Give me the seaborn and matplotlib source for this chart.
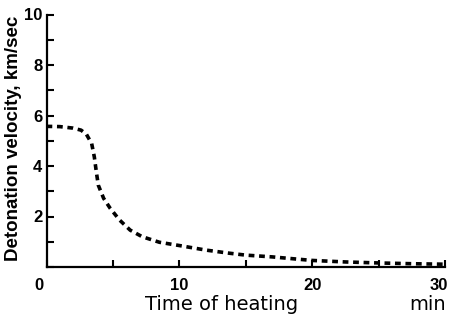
import matplotlib
matplotlib.use("Agg")
import matplotlib.pyplot as plt
import matplotlib.transforms as mtransforms
from matplotlib.ticker import MultipleLocator, FixedLocator
import seaborn as sns
import pandas as pd

# Data
time_min = [0, 1, 2, 2.6, 3.0, 3.4, 3.6, 3.75, 3.9, 4.3, 4.8, 5.5, 6.3, 7.2,
            8.5, 10, 12, 13.7, 15, 17, 18.7, 20, 22.5, 25, 27.5, 30]
velocity = [5.57, 5.56, 5.5, 5.42, 5.26, 4.89, 4.36, 3.77, 3.24, 2.72, 2.32,
            1.86, 1.46, 1.2, 0.98, 0.85, 0.67, 0.55, 0.47, 0.40, 0.32, 0.26,
            0.2, 0.16, 0.13, 0.11]
x_tick_labels = ["0", "10", "20", "30"]
y_tick_labels = ["", "2", "4", "6", "8", "10"]

sns.set_style("ticks")
plt.rcParams["font.family"] = ["Liberation Sans", "DejaVu Sans"]
plt.rcParams["xtick.direction"] = "in"
plt.rcParams["ytick.direction"] = "in"
plt.rcParams["text.color"] = "black"
plt.rcParams["axes.labelcolor"] = "black"
plt.rcParams["xtick.color"] = "black"
plt.rcParams["ytick.color"] = "black"

df = pd.DataFrame({"time": time_min, "velocity": velocity})

fig = plt.figure(figsize=(4.51, 3.14), dpi=100)
ax = fig.add_axes([46.5 / 451, (314 - 267) / 314, (445 - 46.5) / 451, (267 - 14.5) / 314])

sns.lineplot(data=df, x="time", y="velocity", ax=ax, color="black",
             linewidth=2.6, linestyle=(0, (1.6, 1.3)))

ax.set_xlim(0, 30)
ax.set_ylim(0, 10)
ax.xaxis.set_major_locator(FixedLocator([0, 10, 20, 30]))
ax.xaxis.set_minor_locator(FixedLocator([5, 15, 25]))
ax.set_xticklabels(x_tick_labels)
ax.yaxis.set_major_locator(FixedLocator([0, 2, 4, 6, 8, 10]))
ax.yaxis.set_minor_locator(MultipleLocator(1))
ax.set_yticklabels(y_tick_labels)

for s in ["top", "right"]:
    ax.spines[s].set_visible(False)
for s in ["left", "bottom"]:
    ax.spines[s].set_linewidth(1.6)
    ax.spines[s].set_color("black")

ax.tick_params(axis="both", which="both", direction="in", color="black",
               labelcolor="black", width=1.5)
ax.tick_params(axis="y", which="major", length=5, pad=3, labelsize=12)
ax.tick_params(axis="y", which="minor", length=5)
ax.tick_params(axis="x", which="major", length=5, pad=8, labelsize=12)
ax.tick_params(axis="x", which="minor", length=5)
for lab in ax.get_xticklabels() + ax.get_yticklabels():
    lab.set_fontweight("bold")

# shift the corner "0" slightly left and the "30" slightly left to fit
xl = ax.get_xticklabels()
xl[0].set_transform(xl[0].get_transform() + mtransforms.ScaledTranslation(-8 / 100, 0, fig.dpi_scale_trans))
xl[-1].set_transform(xl[-1].get_transform() + mtransforms.ScaledTranslation(-6 / 100, 0, fig.dpi_scale_trans))

ax.set_xlabel("")
ax.set_ylabel("Detonation velocity, km/sec", fontsize=13.5, fontweight="bold", color="black")
ax.yaxis.set_label_coords(-0.062, 0.51)

fig.text(222 / 451, 1 - 305 / 314, "Time of heating", ha="center", va="center",
         fontsize=14, family=["DejaVu Sans"], color="black")
fig.text(446 / 451, 1 - 305 / 314, "min", ha="right", va="center",
         fontsize=14, family=["DejaVu Sans"], color="black")

fig.savefig("out.png", dpi=100)
